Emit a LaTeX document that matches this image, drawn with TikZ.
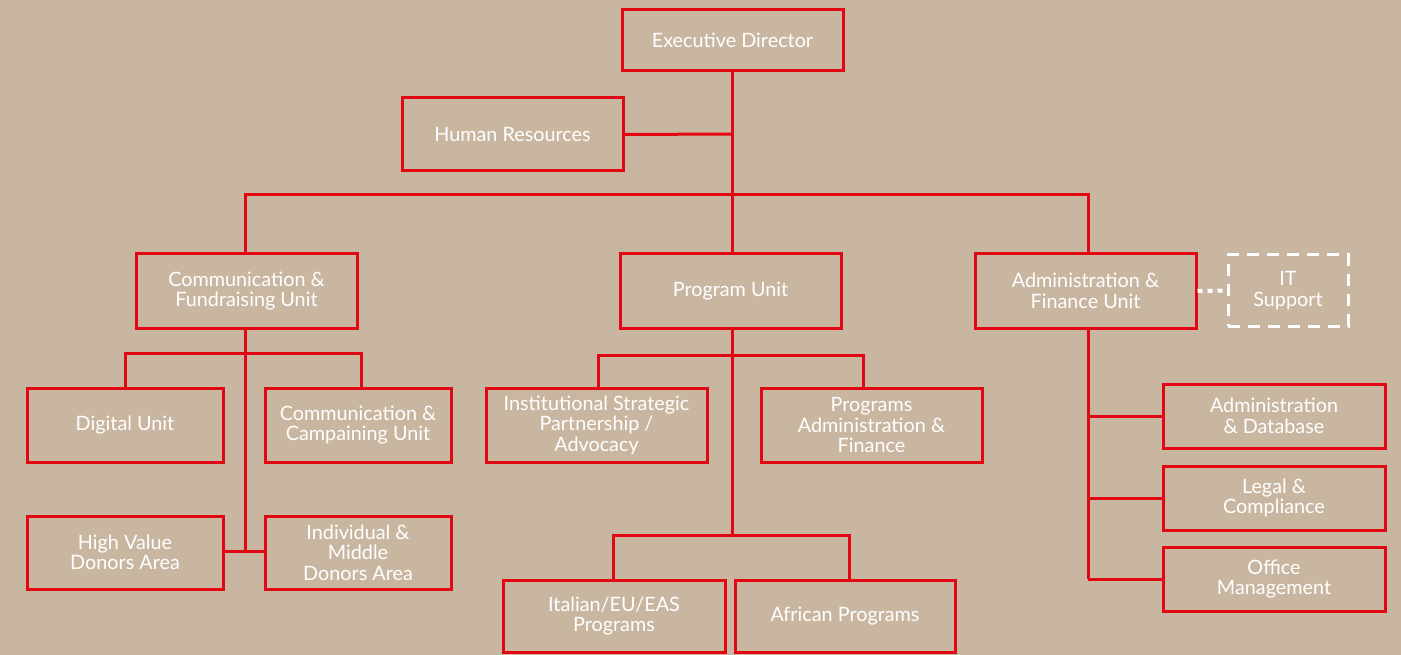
\documentclass[tikz,border=0pt]{standalone}
\usepackage{fontspec}
\setmainfont{Lato}
\definecolor{bg}{HTML}{C8B6A0}
\definecolor{lred}{HTML}{E30613}
\begin{document}
\begin{tikzpicture}[x=1pt,y=-1pt,
  box/.style={draw=lred, line width=3pt, text=white, align=center, inner sep=0pt,
    font=\fontsize{19.8}{20.5}\selectfont},
  link/.style={draw=lred, line width=3pt},
  itbox/.style={draw=white, line width=3pt, dash pattern=on 12pt off 8pt, text=white, align=center, inner sep=0pt,
    font=\fontsize{19.8}{20.5}\selectfont},
  dotlink/.style={draw=white, line width=4pt, dash pattern=on 5pt off 5pt}]
\fill[bg] (0,0) rectangle (1401,655);
\useasboundingbox (0,0) rectangle (1401,655);
% nodes
\node[box, minimum width=221, minimum height=61] (ed) at (732.5,40.5) {Executive Director};
\node[box, minimum width=221, minimum height=73] (hr) at (512.5,134.5) {Human Resources};
\node[box, minimum width=221, minimum height=74] (cf) at (246.5,291) {Communication \&\\Fundraising Unit};
\node[box, minimum width=221, minimum height=74] (pu) at (730.5,291) {Program Unit};
\node[box, minimum width=221, minimum height=74] (af) at (1085.5,291) {Administration \&\\Finance Unit};
\node[itbox, minimum width=120, minimum height=71] (it) at (1288,290.5) {IT\\Support};
\node[box, minimum width=196, minimum height=74] (du) at (125,425) {Digital Unit};
\node[box, minimum width=186, minimum height=74] (cc) at (358,425) {Communication \&\\Campaining Unit};
\node[box, minimum width=196, minimum height=73] (hv) at (125,552.5) {High Value\\Donors Area};
\node[box, minimum width=186, minimum height=73] (im) at (358,552.5) {Individual \&\\Middle\\Donors Area};
\node[box, minimum width=221, minimum height=74] (isp) at (596.5,425) {Institutional Strategic\\Partnership /\\Advocacy};
\node[box, minimum width=221, minimum height=74] (paf) at (871.5,425) {Programs\\Administration \&\\Finance};
\node[box, minimum width=222, minimum height=72] (ita) at (614,616) {Italian/EU/EAS\\Programs};
\node[box, minimum width=220, minimum height=72] (afr) at (845,616) {African Programs};
\node[box, minimum width=222, minimum height=64] (adb) at (1274,416) {Administration\\\& Database};
\node[box, minimum width=222, minimum height=64] (lc) at (1274,498) {Legal \&\\Compliance};
\node[box, minimum width=222, minimum height=64] (om) at (1274,579) {Office\\Management};
% junction coordinates
\coordinate (topbar) at (732,195);
\coordinate (hrj) at (732,134);
\coordinate (cfbar) at (245,353);
\coordinate (cfend) at (245,551);
\coordinate (dux) at (125,353);
\coordinate (ccx) at (361,353);
\coordinate (pubar) at (732,355);
\coordinate (ispx) at (598,355);
\coordinate (pafx) at (863,355);
\coordinate (pulow) at (732,535);
\coordinate (itax) at (613,535);
\coordinate (afrx) at (849,535);
\coordinate (afend) at (1088,579);
% connectors
\draw[link] (ed.south -| topbar) -- (topbar);
\draw[link] (hr.east) -- (hrj);
\draw[link] (cf.north -| cfbar) |- (topbar) -| (af.north -| afend);
\draw[link] (topbar) -- (topbar |- pu.north);
% communication & fundraising
\draw[link] (cf.south -| cfbar) -- (cfend);
\draw[link] (du.north -| dux) -- (dux) -- (ccx) -- (cc.north -| ccx);
\draw[link] (hv.east |- cfend) -- (im.west |- cfend);
% program unit
\draw[link] (pubar |- pu.south) -- (pulow);
\draw[link] (isp.north -| ispx) -- (ispx) -- (pafx) -- (paf.north -| pafx);
\draw[link] (ita.north -| itax) -- (itax) -- (afrx) -- (afr.north -| afrx);
% admin & finance
\draw[link] (af.south -| afend) -- (afend);
\draw[link] (afend |- adb.west) -- (adb.west);
\draw[link] (afend |- lc.west) -- (lc.west);
\draw[link] (afend |- om.west) -- (om.west);
\draw[dotlink] (af.east) -- (it.west);
\end{tikzpicture}
\end{document}
